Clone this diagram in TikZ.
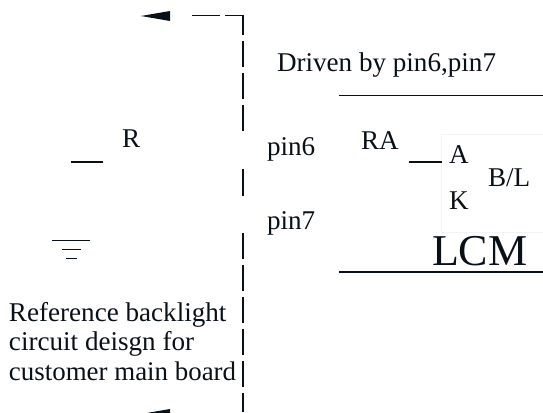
\documentclass[tikz,border=0pt]{standalone}
\usepackage{fontspec}
\setmainfont{Liberation Serif}
\definecolor{ink}{HTML}{0A1018}
\definecolor{faint}{HTML}{F4F4F4}
\newcommand{\fs}[1]{\fontsize{#1}{#1}\selectfont}
\tikzset{
  lbl/.style={anchor=base west,inner sep=0pt,outer sep=0pt,text=ink,font=\fs{27.1}},
  wire/.style={draw=ink,line width=1.4pt},
  thick wire/.style={draw=ink,line width=2pt},
  thin wire/.style={draw=ink,line width=1pt},
  tip/.style={fill=ink,draw=none}
}
\begin{document}
\begin{tikzpicture}[x=1pt,y=-1pt]
\useasboundingbox (0,0) rectangle (543,412);
\clip (0,0) rectangle (543,412);
% dashed vertical run
\foreach \a/\b in {16/35,41/67,73/99,105/131,169/196,233/259,265/291,297/323,329/355,361/387,393/412}
  \draw[wire] (243,\a) -- (243,\b);
\draw[thin wire] (192,16) -- (220,16);
\draw[thin wire] (225,16) -- (243.7,16);
\fill[tip] (141,16) -- (170,11) -- (170,21) -- cycle;
\fill[tip] (141,414) -- (170,409) -- (170,419) -- cycle;
% right rules
\draw[thin wire] (339,95.5) -- (543,95.5);
\draw[thick wire] (339,271.5) -- (543,271.5);
% faint B/L box
\draw[faint,line width=.8pt] (543,134.5) -- (441.5,134.5) -- (441.5,232) -- (543,232);
% resistor stubs
\draw[thick wire] (409,161.5) -- (442,161.5);
\draw[thick wire] (71,161.5) -- (103,161.5);
% ground
\draw[thin wire] (52,240) -- (90,240);
\draw[thin wire] (62,249) -- (81,249);
\draw[thin wire] (66,258) -- (77,258);
% labels
\node[lbl] (drv) at (277,71) {Driven by pin6,pin7};
\node[lbl] (r) at (122,147) {R};
\node[lbl] (p6) at (267,155) {pin6};
\node[lbl] (p7) at (267,229) {pin7};
\node[lbl] (ra) at (361,149) {RA};
\node[lbl] (a) at (449,163.5) {A};
\node[lbl] (k) at (449,209.5) {K};
\node[lbl] (bl) at (488,186.5) {B/L};
\node[lbl,font=\fs{44}] (lcm) at (432,265.5) {LCM};
\node[lbl] (t1) at (9,321) {Reference backlight};
\node[lbl] (t2) at (9,350.5) {circuit deisgn for};
\node[lbl,font=\fs{26.9}] (t3) at (9,380.5) {customer main board};
\end{tikzpicture}
\end{document}
